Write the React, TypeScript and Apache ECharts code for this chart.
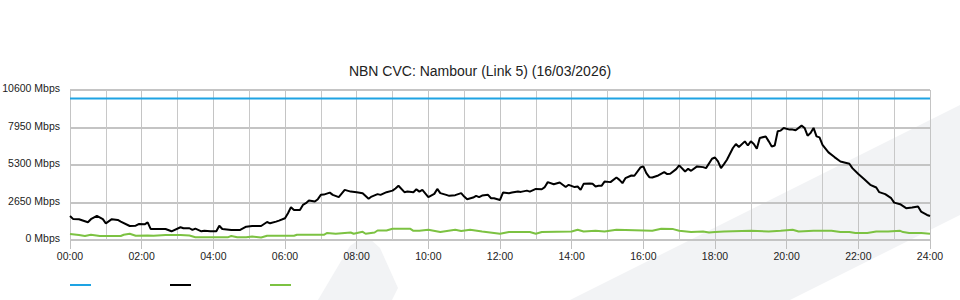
import React, { useEffect, useRef } from "react";
import * as echarts from "echarts";

const TITLE = "NBN CVC: Nambour (Link 5) (16/03/2026)";
const Y_MAX = 10600;
const Y_STEP = 2650;
const X_MAX = 1440; // minutes in the day
const X_STEP = 120;

// capacity (Mbps)
const capacityTimes = [0, 1440];
const capacityValues = [10000, 10000];

// download traffic (minutes since midnight, Mbps)
const downTimes = [
  0, 5, 15, 30, 35, 45, 55, 60, 70, 80, 85, 100, 110, 115, 125, 130, 135, 140, 160, 170,
  185, 190, 200, 205, 210, 220, 225, 235, 245, 250, 255, 270, 280, 285, 295, 305, 320, 330, 335, 345,
  350, 360, 365, 370, 375, 385, 390, 395, 400, 410, 415, 420, 425, 435, 440, 450, 460, 470, 480, 490,
  500, 505, 515, 520, 530, 540, 545, 550, 560, 565, 575, 580, 585, 590, 600, 610, 615, 620, 630, 635,
  645, 655, 660, 665, 675, 680, 685, 690, 700, 705, 710, 720, 725, 735, 740, 750, 755, 765, 770, 780,
  790, 795, 800, 810, 820, 830, 835, 845, 850, 855, 860, 870, 875, 880, 885, 890, 895, 905, 915, 920,
  925, 930, 940, 945, 955, 960, 965, 970, 975, 985, 995, 1000, 1005, 1015, 1020, 1030, 1035, 1040, 1050, 1060,
  1065, 1075, 1080, 1085, 1090, 1095, 1100, 1110, 1115, 1120, 1130, 1135, 1140, 1145, 1150, 1155, 1165, 1170, 1175, 1180,
  1185, 1190, 1195, 1205, 1210, 1215, 1225, 1230, 1235, 1240, 1245, 1250, 1255, 1260, 1270, 1280, 1290, 1305, 1310, 1320,
  1330, 1340, 1350, 1355, 1365, 1375, 1380, 1390, 1400, 1410, 1420, 1425, 1435, 1440,
];
const downValues = [
  1700, 1490, 1465, 1250, 1470, 1700, 1470, 1180, 1470, 1420, 1300, 990, 1010, 1130, 1110, 1250, 780, 780, 780, 615,
  900, 830, 830, 710, 800, 615, 660, 615, 615, 1010, 780, 710, 710, 710, 940, 990, 990, 1270, 1180, 1300,
  1370, 1540, 1890, 2320, 2125, 2125, 2480, 2600, 2785, 2715, 2885, 3190, 3210, 3350, 3190, 3030, 3540, 3420, 3380, 3310,
  2910, 3070, 3240, 3190, 3380, 3490, 3640, 3830, 3380, 3420, 3380, 3580, 3420, 3540, 3030, 3260, 3610, 3310, 3190, 3120,
  3170, 3310, 3070, 2880, 3000, 3120, 3030, 3140, 3190, 2950, 2950, 2830, 3350, 3310, 3350, 3420, 3400, 3490, 3420, 3610,
  3590, 3740, 4090, 3940, 4060, 3740, 3900, 3740, 3780, 3540, 3970, 4000, 3970, 3780, 3830, 3830, 4130, 4090, 4415, 4250,
  4020, 4370, 4560, 4540, 5120, 5200, 4730, 4440, 4420, 4560, 4800, 4660, 4680, 5010, 5270, 4840, 5030, 4890, 5200, 5150,
  5080, 5740, 5830, 5550, 5080, 5360, 5670, 6500, 6780, 6570, 6970, 6680, 6970, 6780, 6450, 7210, 7320, 6970, 6610, 6680,
  7680, 7730, 7920, 7800, 7800, 7750, 8080, 7920, 7370, 7560, 7920, 7320, 7250, 6730, 6190, 5860, 5550, 5390, 5080, 4660,
  4300, 3900, 3710, 3380, 3240, 2955, 2640, 2530, 2250, 2290, 2360, 2010, 1770, 1700,
];

// upload traffic (minutes since midnight, Mbps)
const upTimes = [
  0, 15, 25, 35, 50, 85, 90, 100, 110, 130, 140, 160, 185, 200, 210, 265, 270, 280, 295, 305,
  320, 330, 375, 380, 425, 430, 445, 470, 475, 490, 495, 510, 515, 530, 540, 570, 575, 585, 600, 620,
  645, 655, 670, 690, 720, 735, 770, 780, 790, 840, 850, 860, 880, 895, 915, 975, 990, 1010, 1020, 1040,
  1060, 1070, 1080, 1095, 1140, 1170, 1190, 1210, 1220, 1245, 1275, 1290, 1305, 1315, 1335, 1350, 1370, 1390, 1395, 1405,
  1425, 1440,
];
const upValues = [
  420, 350, 280, 370, 280, 280, 370, 440, 300, 320, 300, 350, 350, 320, 200, 200, 280, 200, 200, 250,
  180, 300, 300, 370, 370, 490, 440, 530, 440, 580, 440, 530, 670, 670, 790, 790, 650, 650, 720, 560,
  720, 630, 720, 600, 440, 560, 560, 440, 560, 600, 720, 600, 650, 600, 720, 650, 790, 770, 650, 560,
  600, 530, 560, 600, 650, 600, 650, 720, 600, 650, 650, 560, 560, 490, 490, 600, 600, 650, 560, 490,
  490, 440,
];

const COLORS = { capacity: "#1ea3e3", down: "#000000", up: "#7cc242" };
const FONT = "'Liberation Sans', Arial, sans-serif";

const pairs = (t: number[], v: number[]) => t.map((x, i) => [x, v[i]]);
const hhmm = (m: number) => `${String(Math.floor(m / 60)).padStart(2, "0")}:00`;

export default function App() {
  const ref = useRef<HTMLDivElement>(null);
  useEffect(() => {
    if (!ref.current) return;
    const chart = echarts.init(ref.current, null, { renderer: "svg" });
    const swoosh = "#f2f3f5";
    chart.setOption({
      animation: false,
      backgroundColor: "#ffffff",
      title: {
        text: TITLE,
        left: "center",
        top: 59,
        textStyle: { fontFamily: FONT, fontSize: 14, fontWeight: "normal", color: "#222" },
      },
      graphic: [
        {
          type: "polygon",
          z: -10,
          silent: true,
          shape: { points: [[570, 300], [960, 105], [960, 215], [790, 300]] },
          style: { fill: swoosh },
        },
        {
          type: "polygon",
          z: -10,
          silent: true,
          shape: { points: [[318, 300], [350, 246], [360, 239], [370, 239], [380, 248], [398, 288], [392, 300]] },
          style: { fill: swoosh },
        },
        { type: "line", shape: { x1: 70, y1: 285, x2: 91, y2: 285 }, style: { stroke: COLORS.capacity, lineWidth: 2 } },
        { type: "line", shape: { x1: 170, y1: 285, x2: 191, y2: 285 }, style: { stroke: COLORS.down, lineWidth: 2 } },
        { type: "line", shape: { x1: 270, y1: 285, x2: 291, y2: 285 }, style: { stroke: COLORS.up, lineWidth: 2 } },
      ],
      grid: { left: 70, right: 30, top: 90, bottom: 60, containLabel: false, outerBoundsMode: "none" },
      xAxis: {
        type: "value",
        min: 0,
        max: X_MAX,
        interval: X_STEP,
        axisLine: { show: false },
        axisTick: { show: true, length: 9, lineStyle: { color: "#c0c0c0", width: 1 } },
        minorTick: { show: false, splitNumber: 2 },
        axisLabel: {
          margin: 10,
          fontFamily: FONT,
          fontSize: 10.5,
          color: "#222",
          formatter: (v: number) => hhmm(v),
        },
        splitLine: { show: true, lineStyle: { color: "#c4c4c4", width: 1 } },
        minorSplitLine: { show: true, lineStyle: { color: "#c8c8c8", width: 1 } },
      },
      yAxis: {
        type: "value",
        min: 0,
        max: Y_MAX,
        interval: Y_STEP,
        axisLine: { show: false },
        axisTick: { show: false },
        axisLabel: {
          margin: 10,
          fontFamily: FONT,
          fontSize: 10.5,
          color: "#222",
          formatter: (v: number) => `{a|${v} Mbps}`,
          rich: {
            a: { fontFamily: FONT, fontSize: 10.5, color: "#222", padding: [0, 0, 4, 0] },
          },
        },
        splitLine: { show: true, lineStyle: { color: "#c4c4c4", width: 2 } },
      },
      series: [
        {
          name: "Capacity",
          type: "line",
          data: pairs(capacityTimes, capacityValues),
          showSymbol: false,
          lineStyle: { color: COLORS.capacity, width: 2 },
          itemStyle: { color: COLORS.capacity },
          z: 3,
        },
        {
          name: "Download",
          type: "line",
          data: pairs(downTimes, downValues),
          showSymbol: false,
          lineStyle: { color: COLORS.down, width: 2 },
          itemStyle: { color: COLORS.down },
          z: 4,
        },
        {
          name: "Upload",
          type: "line",
          data: pairs(upTimes, upValues),
          showSymbol: false,
          lineStyle: { color: COLORS.up, width: 2 },
          itemStyle: { color: COLORS.up },
          z: 4,
        },
      ],
    });
    return () => chart.dispose();
  }, []);
  return <div ref={ref} style={{ width: 960, height: 300, position: "absolute", left: 0, top: 0 }} />;
}
